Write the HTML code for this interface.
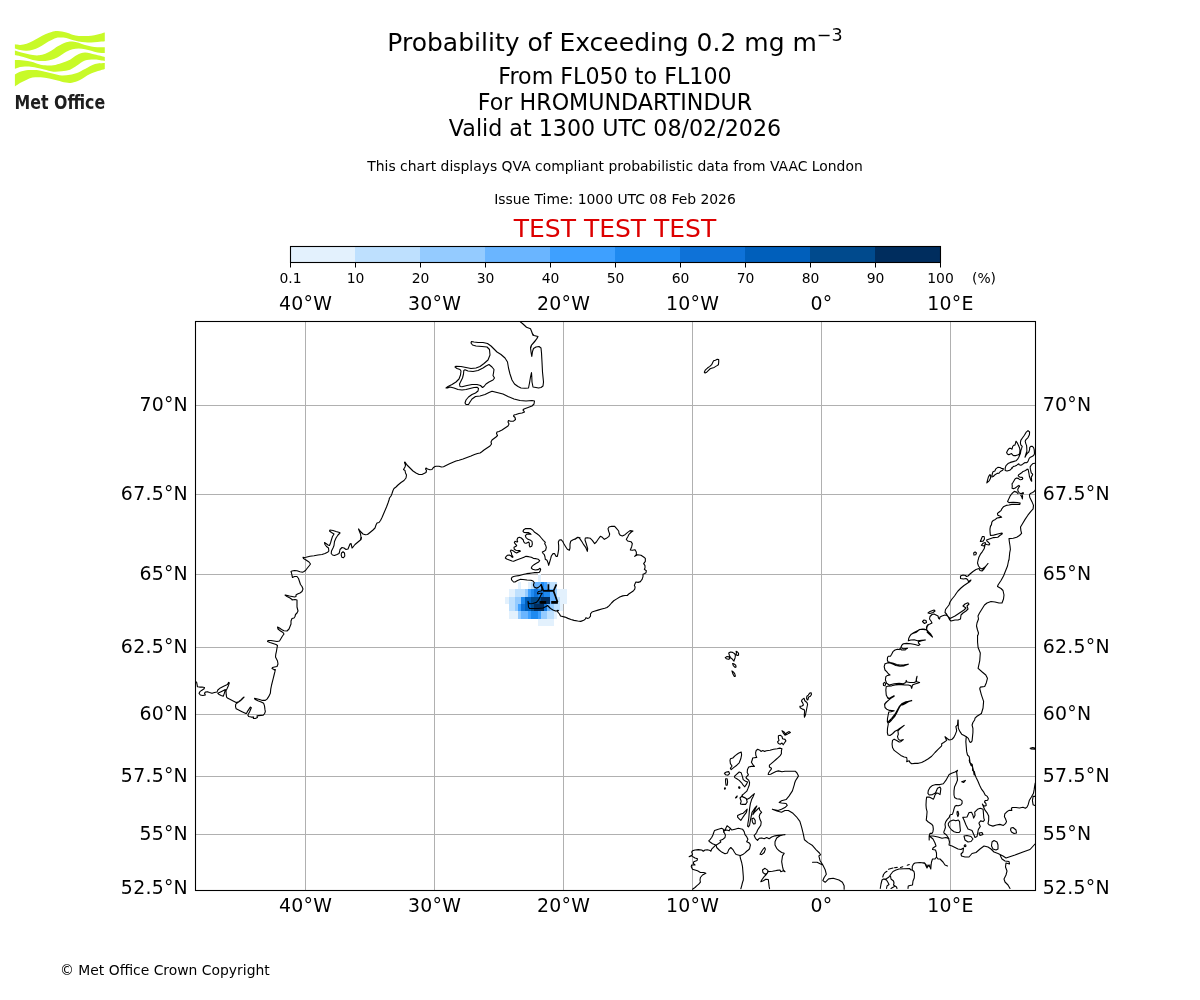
<!DOCTYPE html>
<html><head><meta charset="utf-8"><title>Probability of Exceeding 0.2 mg m-3</title>
<style>html,body{margin:0;padding:0;background:#fff;}svg{display:block;will-change:transform}</style></head>
<body><svg width="1200" height="1000" viewBox="0 0 1200 1000">
<rect width="1200" height="1000" fill="#fff"/>
<text x="615" y="51" font-size="25" text-anchor="middle" font-family="DejaVu Sans, Liberation Sans, sans-serif">Probability of Exceeding 0.2 mg m<tspan font-size="17.5" dy="-10">−3</tspan></text>
<text x="615" y="83.5" font-size="22.2" text-anchor="middle" font-family="DejaVu Sans, Liberation Sans, sans-serif">From FL050 to FL100</text>
<text x="615" y="109.6" font-size="22.2" text-anchor="middle" font-family="DejaVu Sans, Liberation Sans, sans-serif">For HROMUNDARTINDUR</text>
<text x="615" y="135.7" font-size="22.2" text-anchor="middle" font-family="DejaVu Sans, Liberation Sans, sans-serif">Valid at 1300 UTC 08/02/2026</text>
<text x="615" y="171.3" font-size="13.9" text-anchor="middle" font-family="DejaVu Sans, Liberation Sans, sans-serif">This chart displays QVA compliant probabilistic data from VAAC London</text>
<text x="615" y="204.2" font-size="13.9" text-anchor="middle" font-family="DejaVu Sans, Liberation Sans, sans-serif">Issue Time: 1000 UTC 08 Feb 2026</text>
<text x="615" y="236.7" font-size="25" text-anchor="middle" fill="#dd0000" font-family="DejaVu Sans, Liberation Sans, sans-serif">TEST TEST TEST</text>
<rect x="290" y="246" width="65" height="17" fill="#e3f1fd"/>
<rect x="355" y="246" width="65" height="17" fill="#bee0fe"/>
<rect x="420" y="246" width="65" height="17" fill="#94cbff"/>
<rect x="485" y="246" width="65" height="17" fill="#6ab5ff"/>
<rect x="550" y="246" width="65" height="17" fill="#3ea0ff"/>
<rect x="615" y="246" width="65" height="17" fill="#1f8af0"/>
<rect x="680" y="246" width="65" height="17" fill="#0e72d8"/>
<rect x="745" y="246" width="65" height="17" fill="#005fbb"/>
<rect x="810" y="246" width="65" height="17" fill="#004a8d"/>
<rect x="875" y="246" width="65" height="17" fill="#002d5e"/>
<rect x="290.5" y="246.5" width="650" height="16" fill="none" stroke="#000" stroke-width="1.1"/>
<line x1="290.5" y1="262.5" x2="290.5" y2="267.5" stroke="#000" stroke-width="1"/>
<text x="290.5" y="283" font-size="13.9" text-anchor="middle" font-family="DejaVu Sans, Liberation Sans, sans-serif">0.1</text>
<line x1="355.5" y1="262.5" x2="355.5" y2="267.5" stroke="#000" stroke-width="1"/>
<text x="355.5" y="283" font-size="13.9" text-anchor="middle" font-family="DejaVu Sans, Liberation Sans, sans-serif">10</text>
<line x1="420.5" y1="262.5" x2="420.5" y2="267.5" stroke="#000" stroke-width="1"/>
<text x="420.5" y="283" font-size="13.9" text-anchor="middle" font-family="DejaVu Sans, Liberation Sans, sans-serif">20</text>
<line x1="485.5" y1="262.5" x2="485.5" y2="267.5" stroke="#000" stroke-width="1"/>
<text x="485.5" y="283" font-size="13.9" text-anchor="middle" font-family="DejaVu Sans, Liberation Sans, sans-serif">30</text>
<line x1="550.5" y1="262.5" x2="550.5" y2="267.5" stroke="#000" stroke-width="1"/>
<text x="550.5" y="283" font-size="13.9" text-anchor="middle" font-family="DejaVu Sans, Liberation Sans, sans-serif">40</text>
<line x1="615.5" y1="262.5" x2="615.5" y2="267.5" stroke="#000" stroke-width="1"/>
<text x="615.5" y="283" font-size="13.9" text-anchor="middle" font-family="DejaVu Sans, Liberation Sans, sans-serif">50</text>
<line x1="680.5" y1="262.5" x2="680.5" y2="267.5" stroke="#000" stroke-width="1"/>
<text x="680.5" y="283" font-size="13.9" text-anchor="middle" font-family="DejaVu Sans, Liberation Sans, sans-serif">60</text>
<line x1="745.5" y1="262.5" x2="745.5" y2="267.5" stroke="#000" stroke-width="1"/>
<text x="745.5" y="283" font-size="13.9" text-anchor="middle" font-family="DejaVu Sans, Liberation Sans, sans-serif">70</text>
<line x1="810.5" y1="262.5" x2="810.5" y2="267.5" stroke="#000" stroke-width="1"/>
<text x="810.5" y="283" font-size="13.9" text-anchor="middle" font-family="DejaVu Sans, Liberation Sans, sans-serif">80</text>
<line x1="875.5" y1="262.5" x2="875.5" y2="267.5" stroke="#000" stroke-width="1"/>
<text x="875.5" y="283" font-size="13.9" text-anchor="middle" font-family="DejaVu Sans, Liberation Sans, sans-serif">90</text>
<line x1="940.5" y1="262.5" x2="940.5" y2="267.5" stroke="#000" stroke-width="1"/>
<text x="940.5" y="283" font-size="13.9" text-anchor="middle" font-family="DejaVu Sans, Liberation Sans, sans-serif">100</text>
<text x="984" y="283" font-size="13.9" text-anchor="middle" font-family="DejaVu Sans, Liberation Sans, sans-serif">(%)</text>
<defs><clipPath id="mc"><rect x="196" y="322" width="839" height="568"/></clipPath></defs>
<g clip-path="url(#mc)">
<line x1="305.50" y1="321.5" x2="305.50" y2="890.5" stroke="#b0b0b0" stroke-width="1"/>
<line x1="434.50" y1="321.5" x2="434.50" y2="890.5" stroke="#b0b0b0" stroke-width="1"/>
<line x1="563.50" y1="321.5" x2="563.50" y2="890.5" stroke="#b0b0b0" stroke-width="1"/>
<line x1="692.50" y1="321.5" x2="692.50" y2="890.5" stroke="#b0b0b0" stroke-width="1"/>
<line x1="821.50" y1="321.5" x2="821.50" y2="890.5" stroke="#b0b0b0" stroke-width="1"/>
<line x1="950.50" y1="321.5" x2="950.50" y2="890.5" stroke="#b0b0b0" stroke-width="1"/>
<line x1="195.5" y1="405.50" x2="1035.5" y2="405.50" stroke="#b0b0b0" stroke-width="1"/>
<line x1="195.5" y1="494.50" x2="1035.5" y2="494.50" stroke="#b0b0b0" stroke-width="1"/>
<line x1="195.5" y1="574.50" x2="1035.5" y2="574.50" stroke="#b0b0b0" stroke-width="1"/>
<line x1="195.5" y1="647.50" x2="1035.5" y2="647.50" stroke="#b0b0b0" stroke-width="1"/>
<line x1="195.5" y1="714.50" x2="1035.5" y2="714.50" stroke="#b0b0b0" stroke-width="1"/>
<line x1="195.5" y1="776.50" x2="1035.5" y2="776.50" stroke="#b0b0b0" stroke-width="1"/>
<line x1="195.5" y1="834.50" x2="1035.5" y2="834.50" stroke="#b0b0b0" stroke-width="1"/>
<g shape-rendering="crispEdges"><rect x="538.00" y="573.99" width="3.00" height="7.59" fill="#e3f1fd"/><rect x="518.00" y="581.58" width="3.00" height="7.52" fill="#e3f1fd"/><rect x="528.00" y="581.58" width="3.00" height="7.52" fill="#e3f1fd"/><rect x="531.00" y="581.58" width="3.00" height="7.52" fill="#bee0fe"/><rect x="534.00" y="581.58" width="4.00" height="7.52" fill="#6ab5ff"/><rect x="538.00" y="581.58" width="3.00" height="7.52" fill="#6ab5ff"/><rect x="541.00" y="581.58" width="3.00" height="7.52" fill="#1f8af0"/><rect x="544.00" y="581.58" width="3.00" height="7.52" fill="#3ea0ff"/><rect x="547.00" y="581.58" width="3.00" height="7.52" fill="#94cbff"/><rect x="550.00" y="581.58" width="4.00" height="7.52" fill="#bee0fe"/><rect x="554.00" y="581.58" width="3.00" height="7.52" fill="#bee0fe"/><rect x="509.00" y="589.10" width="3.00" height="7.45" fill="#e3f1fd"/><rect x="512.00" y="589.10" width="3.00" height="7.45" fill="#e3f1fd"/><rect x="515.00" y="589.10" width="3.00" height="7.45" fill="#bee0fe"/><rect x="518.00" y="589.10" width="3.00" height="7.45" fill="#bee0fe"/><rect x="521.00" y="589.10" width="4.00" height="7.45" fill="#bee0fe"/><rect x="525.00" y="589.10" width="3.00" height="7.45" fill="#94cbff"/><rect x="528.00" y="589.10" width="3.00" height="7.45" fill="#3ea0ff"/><rect x="531.00" y="589.10" width="3.00" height="7.45" fill="#1f8af0"/><rect x="534.00" y="589.10" width="4.00" height="7.45" fill="#0e72d8"/><rect x="538.00" y="589.10" width="3.00" height="7.45" fill="#1f8af0"/><rect x="541.00" y="589.10" width="3.00" height="7.45" fill="#0e72d8"/><rect x="544.00" y="589.10" width="3.00" height="7.45" fill="#1f8af0"/><rect x="547.00" y="589.10" width="3.00" height="7.45" fill="#1f8af0"/><rect x="550.00" y="589.10" width="4.00" height="7.45" fill="#6ab5ff"/><rect x="554.00" y="589.10" width="3.00" height="7.45" fill="#94cbff"/><rect x="557.00" y="589.10" width="3.00" height="7.45" fill="#e3f1fd"/><rect x="560.00" y="589.10" width="3.00" height="7.45" fill="#e3f1fd"/><rect x="563.00" y="589.10" width="4.00" height="7.45" fill="#e3f1fd"/><rect x="505.00" y="596.55" width="4.00" height="7.38" fill="#e3f1fd"/><rect x="509.00" y="596.55" width="3.00" height="7.38" fill="#bee0fe"/><rect x="512.00" y="596.55" width="3.00" height="7.38" fill="#bee0fe"/><rect x="515.00" y="596.55" width="3.00" height="7.38" fill="#94cbff"/><rect x="518.00" y="596.55" width="3.00" height="7.38" fill="#94cbff"/><rect x="521.00" y="596.55" width="4.00" height="7.38" fill="#1f8af0"/><rect x="525.00" y="596.55" width="3.00" height="7.38" fill="#005fbb"/><rect x="528.00" y="596.55" width="3.00" height="7.38" fill="#005fbb"/><rect x="531.00" y="596.55" width="3.00" height="7.38" fill="#004a8d"/><rect x="534.00" y="596.55" width="4.00" height="7.38" fill="#004a8d"/><rect x="538.00" y="596.55" width="3.00" height="7.38" fill="#004a8d"/><rect x="541.00" y="596.55" width="3.00" height="7.38" fill="#002d5e"/><rect x="544.00" y="596.55" width="3.00" height="7.38" fill="#002d5e"/><rect x="547.00" y="596.55" width="3.00" height="7.38" fill="#002d5e"/><rect x="550.00" y="596.55" width="4.00" height="7.38" fill="#6ab5ff"/><rect x="554.00" y="596.55" width="3.00" height="7.38" fill="#6ab5ff"/><rect x="557.00" y="596.55" width="3.00" height="7.38" fill="#bee0fe"/><rect x="560.00" y="596.55" width="3.00" height="7.38" fill="#e3f1fd"/><rect x="563.00" y="596.55" width="4.00" height="7.38" fill="#e3f1fd"/><rect x="509.00" y="603.93" width="3.00" height="7.32" fill="#bee0fe"/><rect x="512.00" y="603.93" width="3.00" height="7.32" fill="#bee0fe"/><rect x="515.00" y="603.93" width="3.00" height="7.32" fill="#94cbff"/><rect x="518.00" y="603.93" width="3.00" height="7.32" fill="#3ea0ff"/><rect x="521.00" y="603.93" width="4.00" height="7.32" fill="#0e72d8"/><rect x="525.00" y="603.93" width="3.00" height="7.32" fill="#005fbb"/><rect x="528.00" y="603.93" width="3.00" height="7.32" fill="#005fbb"/><rect x="531.00" y="603.93" width="3.00" height="7.32" fill="#004a8d"/><rect x="534.00" y="603.93" width="4.00" height="7.32" fill="#002d5e"/><rect x="538.00" y="603.93" width="3.00" height="7.32" fill="#002d5e"/><rect x="541.00" y="603.93" width="3.00" height="7.32" fill="#002d5e"/><rect x="544.00" y="603.93" width="3.00" height="7.32" fill="#0e72d8"/><rect x="547.00" y="603.93" width="3.00" height="7.32" fill="#6ab5ff"/><rect x="550.00" y="603.93" width="4.00" height="7.32" fill="#94cbff"/><rect x="554.00" y="603.93" width="3.00" height="7.32" fill="#bee0fe"/><rect x="557.00" y="603.93" width="3.00" height="7.32" fill="#bee0fe"/><rect x="560.00" y="603.93" width="3.00" height="7.32" fill="#e3f1fd"/><rect x="509.00" y="611.25" width="3.00" height="7.25" fill="#e3f1fd"/><rect x="512.00" y="611.25" width="3.00" height="7.25" fill="#e3f1fd"/><rect x="515.00" y="611.25" width="3.00" height="7.25" fill="#e3f1fd"/><rect x="518.00" y="611.25" width="3.00" height="7.25" fill="#94cbff"/><rect x="521.00" y="611.25" width="4.00" height="7.25" fill="#6ab5ff"/><rect x="525.00" y="611.25" width="3.00" height="7.25" fill="#6ab5ff"/><rect x="528.00" y="611.25" width="3.00" height="7.25" fill="#3ea0ff"/><rect x="531.00" y="611.25" width="3.00" height="7.25" fill="#1f8af0"/><rect x="534.00" y="611.25" width="4.00" height="7.25" fill="#1f8af0"/><rect x="538.00" y="611.25" width="3.00" height="7.25" fill="#3ea0ff"/><rect x="541.00" y="611.25" width="3.00" height="7.25" fill="#94cbff"/><rect x="544.00" y="611.25" width="3.00" height="7.25" fill="#94cbff"/><rect x="547.00" y="611.25" width="3.00" height="7.25" fill="#bee0fe"/><rect x="550.00" y="611.25" width="4.00" height="7.25" fill="#bee0fe"/><rect x="554.00" y="611.25" width="3.00" height="7.25" fill="#e3f1fd"/><rect x="538.00" y="618.50" width="3.00" height="7.19" fill="#e3f1fd"/><rect x="541.00" y="618.50" width="3.00" height="7.19" fill="#e3f1fd"/><rect x="544.00" y="618.50" width="3.00" height="7.19" fill="#e3f1fd"/><rect x="547.00" y="618.50" width="3.00" height="7.19" fill="#e3f1fd"/><rect x="550.00" y="618.50" width="4.00" height="7.19" fill="#e3f1fd"/></g>
<path d="M520.00,321.50 L523.00,324.00 L526.50,327.25 L530.50,328.75 L532.00,332.50 L533.00,335.25 L538.00,336.50 L537.00,338.50 L534.50,342.00 L531.50,345.25 L531.00,347.50 M532.00,333.00 L534.00,335.50 L538.00,336.50 L536.50,339.00 L534.00,342.00 L531.50,345.00 L530.50,347.50 L531.00,352.00 L531.80,356.50 L532.50,351.50 L533.50,348.50 L536.00,347.00 L539.00,346.50 L541.00,348.00 L541.50,353.00 L542.00,362.00 L542.50,372.00 L543.50,382.00 L543.00,386.00 L541.00,387.50 L538.50,388.00 L536.00,387.50 L533.00,387.00 L532.00,382.00 L531.80,377.00 L531.50,372.50 L530.50,377.00 L529.50,383.00 L528.50,388.00 L525.00,388.20 L521.00,388.00 L518.00,386.50 L514.50,384.00 L512.00,380.00 L510.00,374.00 L508.50,368.00 L507.50,362.00 L505.00,358.00 L501.00,354.50 L497.00,352.00 L494.00,349.00 L491.00,346.00 L487.50,343.50 L483.00,342.50 L478.00,342.50 L474.00,342.00 L471.50,341.50 L471.00,343.00 L472.50,345.00 L476.00,346.00 L482.00,346.50 L487.00,347.00 L489.50,349.50 L490.00,355.00 L488.00,360.00 L484.00,363.50 L480.00,366.50 L476.00,368.00 L471.00,368.50 L466.00,367.50 L461.00,366.50 L456.00,366.20 L455.00,367.00 L457.00,368.50 L460.00,369.50 L461.00,371.00 L460.50,375.00 L459.00,379.00 L456.00,382.00 L452.00,384.50 L448.00,386.50 L446.00,388.00 L447.50,388.00 L450.00,387.00 L454.00,388.00 L458.00,389.50 L462.00,390.00 L466.00,389.50 L470.00,388.50 L474.00,387.50 L477.00,387.20 L478.50,388.50 L478.00,391.00 L475.50,393.00 L472.00,394.50 L468.50,397.00 L466.00,400.00 L465.00,403.00 L466.00,404.50 L468.50,404.50 L470.00,402.00 L472.00,399.00 L475.50,396.50 L480.00,396.00 L485.00,394.50 L489.00,392.50 L492.00,391.20 L497.00,392.50 L503.00,394.00 L508.00,396.50 L514.00,399.00 L520.00,400.50 L526.00,401.00 L532.00,400.50 L534.50,401.00 L534.00,404.00 L532.00,406.00 L528.00,407.50 L524.00,409.00 L523.00,410.00 M489.00,364.50 L492.00,367.00 L494.00,369.50 L493.50,373.00 L493.00,375.50 L494.50,378.00 L493.00,380.00 L489.00,382.00 L486.00,384.00 L484.00,386.50 L482.50,387.50 L480.50,385.50 L477.00,384.50 L472.00,384.50 L467.00,385.50 L462.00,386.80 L460.00,386.50 L459.50,384.00 L461.00,381.00 L462.50,378.00 L463.50,374.00 L463.80,370.50 L465.00,369.80 L468.00,371.00 L473.00,371.50 L478.00,370.50 L483.00,368.00 L486.00,366.00 L489.00,364.50Z M523.00,410.00 L523.50,410.50 L524.50,412.00 L522.00,413.00 L519.00,413.50 L516.00,414.50 L514.00,415.00 L513.50,416.00 L515.00,417.50 L515.50,419.50 L513.50,421.20 L510.50,421.20 L508.50,420.50 L508.00,422.00 L509.00,424.00 L508.00,426.00 L505.00,428.00 L502.00,430.00 L499.00,431.50 L497.00,432.00 L496.50,433.50 L497.50,435.50 L496.00,437.00 L494.00,438.50 L492.00,440.00 L491.00,442.00 L491.50,444.00 L490.00,446.00 L487.00,448.00 L484.00,450.00 L481.50,452.00 L480.00,453.00 L477.50,453.50 L474.50,454.50 L471.00,456.00 L467.00,457.50 L463.00,459.00 L459.00,460.20 L456.00,461.00 L453.00,462.20 L449.00,464.00 L446.00,465.50 L443.50,466.80 L441.50,467.00 L439.00,466.20 L436.00,466.20 L434.50,466.80 L433.00,468.00 L432.00,469.50 L430.00,469.80 L427.50,469.00 L426.00,468.00 L425.50,469.00 L426.50,470.50 L426.00,472.50 L424.00,473.50 L422.00,474.50 M422.00,474.50 L419.00,474.50 L416.00,473.00 L413.00,471.00 L410.00,468.00 L407.00,465.00 L405.00,462.00 L404.50,462.50 L405.50,465.00 L405.00,467.00 L403.50,469.50 L405.00,470.50 L405.50,473.00 L406.50,475.00 L406.00,478.00 L404.00,480.50 L401.00,482.50 L398.00,485.00 L396.00,487.00 L394.00,488.50 L393.00,490.50 L392.00,493.50 L391.00,496.00 L389.50,498.00 L389.00,500.00 L388.00,503.00 L386.50,507.00 L385.00,510.50 L383.50,514.00 L382.00,517.50 L380.50,520.50 L379.00,522.50 L377.00,523.00 L376.00,525.00 L375.00,528.00 L373.00,530.00 L370.00,532.50 L367.50,534.50 L365.50,534.80 L363.00,534.00 L361.00,532.00 L359.00,529.50 L358.50,529.00 L359.50,531.50 L360.50,534.00 L361.00,537.00 L360.50,539.50 M361.50,537.50 L361.00,539.50 L358.00,542.00 L355.00,544.50 L353.00,547.00 L352.00,548.00 L351.50,545.50 L351.00,543.50 L350.00,544.00 L349.00,546.50 L348.00,549.00 L346.00,549.50 L344.00,548.00 L342.00,547.50 L340.00,549.50 L339.50,552.00 L339.00,553.50 L337.00,554.50 L334.50,555.50 L332.50,555.00 L331.20,553.50 L331.50,551.00 L333.00,548.00 L334.00,545.50 L334.50,541.50 L336.00,538.00 L338.00,535.00 L340.00,533.00 L339.50,532.50 L336.00,531.50 L333.00,530.50 L330.00,530.00 L329.50,531.00 L331.50,532.50 L334.00,534.00 L332.50,536.50 L331.50,539.50 L330.50,543.00 L329.50,545.50 L328.00,545.00 L326.00,543.50 L324.50,542.50 L325.00,544.50 L326.50,546.50 L328.50,548.00 L328.80,551.00 L328.00,552.00 L325.00,553.50 L322.00,554.50 L318.00,555.00 L314.00,555.70 L310.00,556.30 L306.00,557.20 L304.00,557.50 L303.00,557.20 L303.50,558.50 L306.00,560.00 L309.00,562.00 L310.50,564.00 L309.00,566.00 L307.00,568.50 L305.50,570.50 L304.00,571.50 L302.50,572.20 L300.00,571.80 L297.00,570.80 L294.50,570.50 L292.00,571.00 L291.00,571.50 L291.50,573.00 L292.00,575.50 L292.50,577.50 L294.50,576.50 L297.00,576.50 L298.50,578.50 L299.50,581.50 L300.50,584.50 L302.00,586.50 L303.00,589.00 L302.00,591.50 L300.00,593.00 L297.50,594.00 L296.00,595.00 L296.00,596.50 L294.50,597.00 L292.00,596.50 L289.50,596.00 L286.50,595.20 L285.00,595.00 L287.00,596.50 L290.00,598.00 L292.00,599.50 L293.00,600.00 M341.50,553.00 L343.00,551.80 L344.50,553.00 L344.80,556.00 L343.50,557.80 L341.80,557.20 L341.20,555.00 L341.50,553.00Z M292.00,600.00 L295.00,599.50 L297.00,600.00 L297.00,604.00 L297.00,607.00 L298.00,611.00 L297.00,613.00 L295.50,614.50 L295.00,616.50 L294.00,618.00 L292.00,618.50 L291.00,621.00 L291.00,624.00 L290.00,626.50 L289.00,629.00 L287.00,631.00 L284.00,630.80 L281.50,629.50 L279.50,628.00 L277.50,627.00 L278.00,629.00 L280.50,631.00 L283.00,632.50 L284.00,634.00 L282.50,636.00 L281.00,638.50 L279.50,641.00 L277.00,641.50 L274.00,641.00 L271.00,640.50 L268.00,640.50 L267.50,641.50 L270.00,642.50 L273.00,643.50 L276.00,644.50 L277.50,645.50 L277.00,648.00 L276.50,651.00 L275.80,654.00 L275.50,657.00 L276.50,659.00 L277.50,661.00 L278.00,664.00 L277.00,666.50 L274.50,667.00 L272.50,667.50 L272.00,668.50 L274.00,669.50 L274.50,670.00 M274.50,670.00 L275.33,669.58 L274.92,671.67 L274.08,675.00 L273.25,678.33 L272.42,681.67 L271.58,685.00 L270.75,689.17 L270.33,693.33 L268.67,696.67 L267.00,699.17 L265.33,700.42 L262.42,700.42 L259.50,699.58 L256.58,698.75 L254.50,698.33 L255.33,699.58 L257.83,700.83 L261.17,702.08 L263.67,703.33 L264.50,705.83 L264.92,709.17 L265.33,711.67 L264.50,713.75 L263.25,715.17 L258.67,715.67 L257.00,715.83 L257.42,717.50 L255.33,718.50 L253.25,718.33 L253.67,717.08 L251.17,717.08 L248.67,716.50 L247.83,715.00 L249.50,712.08 L251.33,707.67 L250.33,707.08 L247.83,710.83 L246.58,713.33 L245.33,713.33 L242.00,711.67 L238.67,710.00 L236.17,708.75 L235.50,706.67 L235.75,704.17 L237.42,702.92 L240.33,700.83 L242.42,698.75 L244.08,697.08 L242.83,697.92 L241.17,699.58 L238.67,701.67 L236.17,702.50 L233.67,701.25 L230.33,699.58 L227.83,698.33 L226.58,697.08 L226.17,694.17 L226.00,690.83 L227.00,688.75 L228.50,685.42 L229.33,682.92 L228.67,682.33 L227.42,684.58 L223.67,686.25 L220.33,687.92 L217.83,690.00 L217.00,692.08 L214.50,692.50 L212.00,693.33 L209.50,692.50 L207.42,691.67 L205.33,692.08 L204.50,693.33 L205.33,695.00 L202.83,695.42 L200.33,695.00 L199.08,693.33 L199.92,691.67 L201.58,690.42 L204.08,688.75 L204.50,687.50 L202.00,687.08 L199.50,687.08 L197.42,686.67 L197.00,684.17 L196.58,682.08 L195.33,681.83 M217.83,693.33 L221.58,691.50 L225.33,689.58 L224.33,693.33 L223.25,696.25 L221.17,695.42 L218.67,694.17 L217.83,693.33Z M704.30,372.20 L705.20,370.16 L707.45,368.06 L709.85,366.35 L711.65,364.64 L712.70,362.60 L713.60,360.80 L715.40,360.20 L717.20,359.30 L718.70,359.60 L718.70,362.30 L718.40,364.70 L716.60,365.90 L714.20,367.40 L711.50,368.30 L710.15,368.75 L708.50,370.34 L706.70,372.20 L705.05,373.04 L704.30,372.20Z M580.00,537.67 L577.67,537.33 L575.33,538.67 L572.67,540.00 L570.67,541.33 L570.00,544.00 L570.00,548.00 L569.33,550.33 L567.33,549.33 L565.67,546.67 L564.00,544.00 L562.67,541.33 L561.00,539.67 L559.33,540.00 L558.33,542.00 L558.67,545.33 L558.67,549.33 L558.00,553.33 L557.33,556.33 L556.00,556.33 L554.67,553.67 L553.00,553.67 L551.33,556.00 L550.67,558.67 L549.67,562.00 L548.67,565.33 L548.00,562.67 L547.00,560.33 L545.33,559.33 L545.00,557.00 L544.33,554.67 L543.00,553.33 L542.33,552.00 L544.00,551.33 L545.67,550.00 L546.33,547.33 L545.67,545.33 L544.67,543.67 L545.33,542.33 L543.33,540.33 L541.33,538.00 L539.33,535.67 L537.33,534.00 L534.67,532.33 L532.67,530.00 L530.67,528.67 L528.00,528.53 L525.33,528.67 L523.67,529.67 L523.00,531.33 L524.00,532.33 L526.67,532.67 L528.67,532.67 L530.33,533.67 L531.00,534.33 L528.67,534.00 L526.67,534.33 L525.33,535.67 L526.00,537.67 L528.00,539.33 L530.67,540.33 L532.00,541.33 L532.33,544.00 L531.67,546.33 L530.00,547.00 L529.33,545.67 L529.33,543.33 L528.67,542.00 L527.33,542.67 L526.00,543.33 L524.67,543.00 L523.67,541.67 L523.33,540.00 L521.33,538.00 L519.33,537.20 L517.67,538.00 L517.00,540.00 L517.67,541.67 L517.00,542.00 L515.00,541.33 L514.33,542.67 L515.33,544.00 L516.67,545.33 L516.00,546.33 L514.00,547.33 L514.33,549.33 L516.00,550.33 L518.00,550.67 L520.00,550.67 L520.33,551.33 L518.00,552.33 L516.67,553.00 L514.67,552.00 L513.00,550.67 L511.00,550.00 L510.33,551.00 L511.33,552.67 L511.67,554.67 L513.00,557.00 L512.33,557.33 L510.67,555.67 L509.33,555.00 L507.33,555.33 L506.00,556.67 L505.33,558.00 L506.67,559.00 L509.33,560.00 L512.00,561.00 L513.67,561.33 L516.00,560.33 L518.67,559.33 L521.33,558.33 L524.00,557.20 L526.00,556.33 L528.67,556.67 L531.33,557.33 L533.33,558.33 L536.00,558.67 L538.33,559.33 L539.67,560.67 L538.67,562.00 L536.33,563.33 L534.00,564.67 L532.00,566.33 L531.33,568.00 L532.67,569.33 L535.33,570.00 L538.00,569.67 L540.00,568.33 L540.67,569.33 L540.00,571.33 L539.33,572.33 L537.33,572.67 L534.67,572.67 L532.00,573.00 L529.33,573.33 L526.67,573.67 L524.00,574.33 L521.33,575.00 L518.67,575.67 L516.00,576.00 L513.67,576.53 L512.00,577.33 L511.33,578.67 L511.67,580.00 M575.00,539.33 L578.00,537.20 L579.67,538.33 L581.67,541.33 L583.67,544.67 L585.67,547.33 L587.33,551.33 L587.67,548.67 L586.33,544.00 L585.00,540.00 L585.33,538.00 L587.33,537.67 L590.33,538.33 L592.33,540.33 L594.67,543.67 L596.33,542.00 L598.33,539.00 L600.33,536.33 L602.33,537.33 L604.33,539.33 L606.33,538.33 L609.00,536.33 L609.67,534.00 L608.67,531.33 L608.00,528.67 L609.00,527.00 L611.67,526.33 L614.67,526.33 L616.67,528.67 L618.67,531.00 L619.00,533.33 L620.33,535.33 L622.33,536.00 L625.00,534.67 L627.67,532.33 L630.00,530.67 L633.00,531.00 L631.33,532.00 L629.00,534.33 L627.67,537.00 L626.33,539.33 L627.67,541.00 L631.00,541.67 L632.33,543.67 L631.67,546.67 L630.33,550.00 L632.33,550.33 L635.00,549.67 L636.33,552.00 L636.33,554.67 L634.67,556.33 L637.67,554.67 L641.00,555.33 L643.67,557.00 L645.33,558.33 L645.33,561.33 L643.67,563.67 L645.00,565.67 L645.00,568.00 L644.33,569.33 L646.33,570.67 L646.00,572.67 L644.33,573.67 L643.00,574.33 L643.00,576.67 L642.00,579.67 M642.25,579.00 L640.38,581.63 L638.13,582.38 L635.88,582.00 L635.13,583.50 L634.38,585.38 L635.13,586.88 L634.75,589.13 L633.25,591.00 L631.00,592.50 L628.75,594.00 L627.25,595.50 L625.00,595.50 L622.75,595.88 L619.75,597.00 L616.75,598.88 L613.75,600.75 L611.50,603.00 L609.25,605.63 L607.00,607.50 L604.75,608.25 L601.75,609.00 L598.00,610.13 L594.25,611.25 L592.00,612.00 L590.50,613.88 L590.50,616.13 L589.00,618.00 L587.13,618.38 L586.00,617.63 L585.25,619.13 L583.75,620.25 L580.75,621.38 L577.75,621.00 L574.00,620.40 L571.00,619.50 L568.00,618.38 L565.00,617.10 M511.75,580.00 L513.50,582.00 L515.00,582.00 L517.50,580.50 L520.00,579.40 L523.00,579.50 L527.00,580.00 L531.00,580.25 L533.00,581.00 L534.20,582.50 L533.40,585.00 L534.20,587.00 L536.20,588.10 L538.10,587.60 L539.80,586.20 L541.20,584.90 L542.30,589.00 L541.00,591.00 L538.50,591.50 L537.50,593.00 L538.00,594.00 L540.00,593.25 L542.30,593.20 L541.20,594.60 L539.80,597.40 L538.40,600.20 L536.40,602.40 L532.80,603.50 L530.00,603.80 L528.50,603.00 L528.00,601.25 L528.25,604.00 L528.50,607.00 L529.50,608.50 L533.00,608.50 L538.00,608.50 L543.00,608.00 L546.00,606.50 L547.50,605.50 L548.50,606.50 L550.50,608.50 L553.00,610.00 L555.50,611.00 L557.50,610.75 L557.75,612.00 L559.50,614.00 L560.50,616.00 L565.00,617.10 M1005.20,468.00 L1006.00,465.60 L1008.00,463.60 L1010.40,462.40 L1013.20,461.60 L1016.00,460.80 L1017.60,459.20 L1018.80,457.20 L1019.60,455.20 L1020.40,453.60 L1020.80,450.80 L1021.60,448.40 L1022.20,446.40 L1020.80,444.80 L1020.40,442.80 L1020.80,440.40 L1022.40,438.00 L1024.40,435.20 L1026.00,432.40 L1028.00,430.60 L1029.60,432.00 L1029.40,434.80 L1028.00,437.60 L1026.00,439.60 L1025.20,441.20 L1025.80,443.60 L1026.60,445.60 L1026.80,448.80 L1026.88,451.20 L1026.20,453.20 L1025.00,457.20 L1026.00,455.20 L1027.60,453.00 L1028.80,452.00 L1029.60,449.60 L1029.68,447.60 L1030.80,446.40 L1032.40,446.40 L1033.60,447.60 L1034.20,449.60 L1034.40,452.00 L1034.40,454.00 L1033.60,455.60 L1032.00,456.40 L1030.40,457.20 L1029.20,458.40 L1028.40,460.40 L1027.60,462.00 L1026.40,462.80 L1024.80,462.60 L1024.00,463.20 L1022.40,464.40 L1020.80,465.20 L1019.20,464.80 L1018.80,463.80 L1018.00,464.20 L1016.80,465.20 L1015.20,466.00 L1013.60,466.40 L1012.40,467.40 L1011.60,468.00 M1016.00,441.20 L1017.20,442.80 L1018.40,445.20 L1019.60,448.00 L1020.00,450.40 L1019.60,453.60 L1018.40,454.80 L1016.00,455.60 L1013.60,455.60 L1012.40,454.80 L1011.60,453.60 L1010.40,454.00 L1008.80,454.80 L1007.40,454.00 L1006.60,452.40 L1007.60,450.40 L1009.20,448.40 L1010.80,448.40 L1012.00,449.20 L1012.60,446.80 L1013.60,445.20 L1014.80,445.20 L1015.40,443.60 L1016.00,441.20Z M1012.50,467.79 L1011.58,468.71 L1009.75,470.31 L1007.00,471.00 L1005.16,470.54 L1005.21,468.02 M986.83,482.91 L987.52,480.16 L988.44,476.96 L989.58,474.89 L990.73,475.12 L990.50,478.33 L989.35,480.62 L986.83,482.91Z M991.87,476.96 L992.33,473.75 L993.02,471.69 L994.85,471.00 L995.77,468.94 L997.83,467.33 L1000.12,467.56 L1001.27,468.34 L1003.56,468.71 L1002.64,470.31 L1000.35,471.46 L998.98,473.29 L997.14,473.38 L995.08,474.67 L993.25,476.50 L991.87,476.96Z M1035.41,463.21 L1033.12,463.44 L1031.29,465.04 L1030.14,466.87 L1030.37,469.17 L1030.83,471.00 L1031.29,472.83 L1032.66,474.21 L1032.20,475.58 L1031.29,476.96 L1031.52,479.25 L1031.75,481.31 L1030.83,480.16 L1030.14,478.33 L1029.45,476.50 L1029.00,473.75 L1028.54,471.46 L1028.08,469.40 L1027.16,469.17 L1026.25,470.08 L1024.41,471.00 L1023.04,471.46 L1021.66,472.83 L1019.83,473.98 L1018.46,474.89 L1018.23,475.81 L1019.83,477.19 L1022.12,477.42 L1022.81,478.33 L1022.35,479.25 L1020.75,479.71 L1019.37,479.48 L1018.46,478.33 L1016.62,478.10 L1015.25,478.79 L1014.33,480.16 L1012.96,482.46 L1012.04,483.83 L1012.27,486.12 L1012.04,488.19 L1013.41,488.64 L1015.25,487.96 L1017.08,486.58 L1018.91,485.44 L1019.60,486.35 L1018.68,487.50 L1017.77,489.33 L1018.00,491.16 L1019.37,493.00 L1021.21,493.68 L1022.58,492.77 L1023.50,492.77 L1023.27,493.68 L1021.66,493.91 M1035.41,489.79 L1034.50,491.16 L1032.66,492.54 L1030.37,493.46 L1029.45,494.83 L1029.68,496.66 M1020.75,495.29 L1021.66,496.66 L1022.35,498.96 L1022.58,496.66 L1022.35,495.29 M1029.63,496.72 L1029.98,497.70 L1032.08,501.90 L1033.48,505.40 L1033.13,508.89 L1030.68,511.69 L1027.88,515.19 L1025.08,519.39 L1022.63,523.59 L1020.53,527.09 L1020.88,530.59 L1021.58,533.39 L1019.48,535.49 L1016.68,537.24 L1013.18,538.29 L1008.99,538.64 L1009.34,541.78 L1010.03,545.98 L1010.38,549.48 L1009.69,552.98 L1008.99,559.98 M1018.01,493.71 L1016.61,492.10 L1014.30,491.40 L1011.99,493.50 L1010.38,495.60 L1008.99,498.40 L1007.59,501.55 L1008.99,502.60 L1013.18,502.25 L1017.38,502.46 L1020.18,502.95 L1019.83,504.35 L1015.98,504.35 L1011.78,504.35 L1008.99,505.05 L1006.19,505.40 L1003.39,506.79 L1001.99,508.54 L1000.94,510.64 L999.19,512.04 L997.44,513.44 L997.79,515.19 L1000.24,516.24 L1001.64,517.29 L999.19,517.64 L997.09,517.99 L995.34,519.39 L993.24,520.44 L991.84,522.19 L991.49,524.64 L990.44,526.39 L989.95,529.19 L990.09,532.69 L990.44,535.49 L993.59,535.14 L997.79,534.09 L1001.99,533.04 L1002.34,533.74 L999.89,535.49 L997.79,537.24 L993.59,537.59 L989.39,538.99 L986.59,540.03 L986.94,541.08 L988.69,542.48 L989.74,543.88 L989.04,544.93 L986.59,544.58 L985.19,543.88 L984.84,545.98 L984.14,548.78 L982.39,551.58 L980.29,554.38 L978.89,557.18 L978.19,559.98 M980.29,541.43 L982.39,536.54 L984.14,536.54 L984.49,538.99 L983.09,541.08 L980.29,541.43Z M981.34,545.28 L983.09,543.18 L985.19,542.48 L985.54,544.23 L983.79,545.98 L981.34,545.28Z M973.65,552.98 L975.05,551.93 L976.45,552.98 L975.75,554.73 L974.00,555.08 L973.65,552.98Z M1009.00,559.50 L1008.50,561.00 L1007.50,566.00 L1005.50,571.00 L1003.50,576.00 L1001.00,580.50 L998.00,585.00 L997.50,586.50 L1001.00,588.50 L1003.00,590.50 L1004.00,595.00 L1003.50,599.00 L1002.00,603.00 L999.00,603.00 L995.00,602.00 L991.00,601.50 L987.00,603.00 L984.50,605.00 L982.00,609.00 L979.50,613.00 L978.00,616.00 L978.50,619.00 L977.00,623.00 L976.50,626.00 L977.50,630.00 L978.50,633.00 L978.00,635.00 M978.20,559.50 L977.50,563.00 L978.50,566.00 L980.00,568.00 L982.00,569.00 L985.00,567.00 L988.00,563.50 L986.00,566.00 L984.00,569.00 L982.00,571.00 L980.00,570.50 L979.00,568.50 L976.00,569.50 L973.00,571.50 L970.00,574.00 L968.00,576.00 L966.50,576.50 L965.50,575.50 L963.00,575.00 L960.50,576.00 L960.50,578.50 L963.50,579.00 L966.00,578.50 L967.50,579.50 L968.50,581.50 L971.00,580.00 L970.00,581.50 L967.00,583.50 L964.00,585.50 L961.00,588.00 L958.00,591.00 L956.50,593.00 L954.50,596.00 L952.00,599.00 L950.00,602.00 L949.00,605.00 L947.00,607.50 L945.50,609.50 L945.00,612.50 L946.50,614.00 L948.00,616.50 L949.50,619.50 L951.00,621.00 L955.00,620.00 L958.00,620.00 L960.50,619.00 L961.00,615.00 L963.00,613.00 L966.00,611.00 L968.00,609.00 L967.00,606.00 L969.00,604.00 L968.00,602.80 L965.00,604.00 L963.00,606.00 L966.00,608.00 L964.00,610.00 L961.00,612.00 L958.00,614.00 L955.00,616.00 L952.00,617.50 L950.00,618.50 L947.00,615.50 L945.00,615.00 L942.00,616.00 L940.00,617.00 L939.50,619.00 L938.50,618.00 L938.00,616.00 L936.00,615.00 L934.00,614.00 L932.00,614.50 L930.00,616.50 L929.50,619.00 L931.00,621.00 L932.00,623.00 L930.00,624.00 L927.50,625.00 L926.50,627.00 L926.50,630.00 L924.00,629.00 L920.00,629.50 L917.00,631.00 L914.00,632.50 L911.00,634.50 M926.50,630.00 L929.00,632.50 L930.50,634.50 M928.00,613.00 L930.00,611.50 L934.00,610.00 L935.00,611.00 L933.00,612.50 L930.00,613.50 L928.00,613.00Z M922.50,621.50 L924.00,620.00 L926.00,620.50 L926.50,622.50 L924.50,623.50 L922.50,621.50Z M928.33,625.00 L927.08,626.67 L926.67,629.17 L925.00,629.58 L921.67,629.17 L919.17,629.58 L917.50,631.25 L915.83,632.50 L913.33,633.33 L911.25,634.17 L910.00,635.83 L908.75,638.33 L908.33,640.83 L910.83,640.00 L914.17,639.83 L917.50,640.83 L921.67,640.42 L925.42,640.00 L921.67,640.83 L918.75,641.67 L918.33,642.92 L920.00,644.58 L918.33,645.42 L915.00,644.58 L910.83,643.75 L906.67,643.33 L903.33,643.75 L901.67,645.42 L900.83,647.50 L900.00,648.75 L899.17,649.58 L897.50,649.17 L895.00,650.00 L892.92,651.67 L891.67,654.17 L890.42,656.25 L888.33,656.25 L887.50,657.50 L887.33,660.00 L887.92,661.67 L890.42,662.50 L893.33,663.33 L896.67,664.58 L900.00,665.00 L904.17,664.83 L908.33,664.17 L904.17,665.83 L900.00,666.25 L895.83,665.42 L893.33,664.17 L890.00,662.92 L887.50,662.92 L885.00,663.75 L884.17,666.67 L885.00,670.00 L886.67,671.67 L888.33,673.75 L890.00,675.00 L887.50,675.42 L885.83,676.67 L885.42,680.00 L886.67,683.33 L889.17,685.00 L894.17,683.75 L899.17,683.33 L903.33,683.75 L905.83,682.50 L906.25,680.42 L907.08,682.08 L910.00,682.50 L914.17,682.50 L915.83,681.67 L916.67,678.33 L917.08,676.25 L916.25,679.17 L916.67,681.67 L919.58,682.50 L917.50,683.33 L914.17,684.17 L912.50,685.00 L911.67,688.33 L910.83,685.83 L908.33,685.00 L905.00,685.00 L901.67,684.58 L898.33,684.58 L895.00,685.00 L891.67,685.83 L887.50,686.25 L886.25,686.67 L885.83,690.00 L886.25,695.00 L887.92,698.33 L889.58,698.33 L891.67,697.08 L894.17,695.83 L891.67,697.50 L889.17,699.58 L887.08,701.67 L885.42,703.33 L884.58,705.00 M926.67,629.58 L928.33,631.67 L930.83,634.17 L932.50,637.08 L929.17,634.17 L927.08,632.08 M883.33,683.33 L884.58,682.33 L885.67,683.75 L885.00,685.83 L883.50,685.42 L883.33,683.33Z M900.83,705.00 L903.33,703.33 L906.67,701.67 L911.67,700.42 L908.33,701.67 L905.00,703.75 L902.50,705.00 M900.83,647.50 L903.33,648.75 L907.50,648.33 L905.00,650.00 L901.67,650.00 L900.00,648.75 M886.25,695.00 L887.50,697.50 L890.00,698.75 L894.17,696.25 L890.83,698.33 L888.33,700.42 L885.83,702.50 L884.58,704.17 L885.00,707.50 L886.67,709.17 L889.58,710.42 L894.17,710.83 L891.25,711.67 L888.75,712.08 L888.17,715.00 L887.50,718.33 L887.33,721.67 L888.33,723.75 L887.50,728.33 L887.33,732.50 L887.92,735.00 L890.00,735.42 L892.50,733.75 L895.00,731.25 L897.50,730.00 L900.00,728.33 L904.17,725.42 L900.00,728.75 L897.92,730.83 L898.33,734.17 L897.50,736.67 L898.33,739.17 L900.00,740.42 L903.33,739.58 L900.83,741.67 L899.17,742.08 L896.67,740.42 L894.17,739.17 L892.50,740.42 L892.08,744.17 L892.50,747.50 L894.17,750.42 L897.50,752.92 L900.83,755.42 L904.17,757.08 L906.67,757.50 L907.08,760.00 L906.67,761.67 L909.17,760.83 L910.00,762.50 L911.67,763.75 L915.00,763.33 L918.33,763.33 L921.67,762.50 L925.00,760.83 L928.33,758.75 L931.67,756.25 L935.00,752.50 L938.33,749.17 L941.67,745.83 L941.67,743.75 L943.75,742.50 L946.67,740.42 L945.00,736.67 L947.50,738.75 L949.17,740.00 L951.67,739.58 L953.75,737.50 L955.42,734.17 L956.67,730.83 L956.25,728.33 L955.83,726.67 L957.50,725.00 L957.92,720.00 M911.67,700.83 L906.67,702.08 L902.50,703.75 L900.00,706.25 L898.33,709.58 L896.67,712.92 L894.58,716.67 L891.67,720.00 L889.17,722.50 L888.33,721.67 L891.67,718.33 L895.00,714.17 L897.08,710.42 L899.17,706.67 L901.67,703.75 L905.83,701.83 L911.67,700.83Z M958.17,720.00 L958.33,728.33 L960.00,731.67 L961.67,734.17 L964.17,735.42 L966.25,736.67 L965.83,741.67 L966.25,746.67 L966.67,751.67 L967.50,755.00 L969.17,756.67 L970.00,761.67 L970.83,765.00 L972.50,766.67 L973.33,770.00 L974.17,775.00 M966.25,736.67 L968.33,738.33 L969.58,741.67 L970.83,742.50 L972.08,740.83 L972.50,736.67 L972.92,732.50 L972.92,728.33 L972.08,725.00 L972.92,722.50 L974.58,720.00 L975.00,718.33 M977.55,635.40 L977.55,642.00 L978.10,647.50 L980.30,653.00 L979.75,660.70 L978.10,668.40 L982.50,672.26 L985.80,675.01 L987.45,678.31 L986.35,682.71 L984.70,686.56 L980.30,687.11 L979.75,688.76 L981.40,694.81 L983.60,701.41 L983.05,708.01 L981.40,713.51 L977.00,716.26 L975.02,718.13 M957.50,770.42 L955.00,772.08 L951.67,773.33 L949.17,774.58 L947.50,777.50 L945.83,780.42 L943.33,783.75 L940.00,784.58 L935.83,784.58 L932.50,785.42 L930.00,787.50 L928.33,790.42 L927.92,793.33 L929.17,795.00 L932.50,794.58 L935.00,793.33 L936.25,791.25 L937.50,788.33 L940.00,787.08 L940.83,788.75 L940.42,792.08 L940.00,794.58 L938.33,793.33 L936.67,792.92 L935.00,795.00 L934.17,797.50 L933.33,799.17 L931.67,798.33 L929.17,797.08 L926.67,797.08 L926.25,800.00 L926.00,805.00 L926.25,808.33 L927.08,811.67 L926.67,816.67 L926.25,820.00 L928.33,822.08 L931.67,824.17 L932.92,825.83 L933.33,829.17 L932.92,831.67 L932.08,833.33 L930.00,833.33 L929.17,835.83 L929.17,840.00 M957.50,770.42 L956.67,772.08 L957.08,775.83 L957.50,780.00 L956.25,783.33 L954.58,786.67 L954.00,790.83 L954.00,795.00 L954.58,797.50 L956.67,798.75 L960.00,799.17 L962.08,800.83 L962.08,803.33 L960.83,805.00 L958.33,805.83 L956.25,805.42 L955.00,806.25 L954.17,808.33 L953.33,811.67 L952.50,814.17 L951.25,814.58 L950.00,815.00 L949.17,817.50 L947.50,819.17 L945.83,821.67 L945.00,824.17 L945.42,827.50 L944.58,830.00 L943.75,832.08 L944.17,833.33 M948.33,823.33 L950.00,821.25 L953.33,820.00 L955.83,820.83 L958.33,820.00 L959.58,821.67 L960.00,826.67 L960.42,830.83 L959.17,832.50 L956.67,832.50 L954.17,831.67 L951.67,830.00 L949.58,827.50 L948.33,825.00 L948.33,823.33Z M961.67,781.67 L965.42,780.42 L963.75,782.50 L961.67,781.67Z M957.08,811.67 L957.92,811.25 L958.75,814.17 L957.92,816.67 L957.08,814.17 L957.08,811.67Z M975.05,774.70 L976.10,777.49 L977.84,780.99 L979.59,785.19 L981.69,789.39 L983.79,792.19 L985.19,794.99 L987.29,796.39 L988.34,798.49 L987.64,800.24 L985.19,800.59 L984.49,801.99 L985.89,803.39 L986.24,805.49 L984.49,806.19 L982.74,804.79 L982.39,804.09 L983.79,807.59 L985.19,810.38 L987.29,813.18 L988.69,815.98 L988.69,820.18 L987.99,823.68 L989.39,825.08 L992.89,826.13 L996.39,825.08 L999.89,824.38 L1003.39,825.43 L1005.49,823.68 L1006.54,821.58 L1005.49,818.78 L1004.44,816.68 L1004.79,813.88 L1006.89,811.78 L1008.99,810.38 L1011.78,810.38 L1011.43,808.29 L1012.48,807.45 L1015.98,807.45 L1019.48,807.94 L1022.98,807.24 L1025.43,808.29 L1027.18,806.89 L1028.23,804.44 L1029.28,800.59 L1031.38,797.09 L1033.48,793.24 L1034.18,789.39 L1034.60,786.59 L1035.23,783.09 M969.17,760.00 L969.80,762.80 L972.25,764.55 L972.60,767.00 L972.60,770.50 L974.35,771.55 L975.05,774.70 M962.80,817.38 L967.00,817.03 L969.10,812.48 L971.55,812.34 L972.95,815.28 L973.65,818.08 L975.05,815.28 L974.70,812.13 L977.49,809.34 L980.29,808.29 L983.09,809.34 L983.44,813.18 L983.79,818.08 L984.49,820.18 L983.09,821.58 L980.64,820.88 L978.89,822.98 L980.29,826.48 L978.89,828.58 L978.19,829.98 M1035.23,796.39 L1033.13,796.39 L1032.43,800.59 L1033.13,804.79 L1034.88,805.49 M929.20,835.80 L930.00,836.50 L933.00,839.00 L935.00,843.00 L936.00,846.00 L933.00,848.00 L932.50,849.50 L935.50,850.00 L936.50,853.00 L936.50,857.00 L935.00,859.00 L932.50,859.00 L931.50,862.00 L931.00,866.00 L930.80,869.00 L930.00,867.00 L928.00,865.00 L927.00,868.00 L926.00,866.00 L925.00,863.50 L922.00,862.80 L920.00,862.50 M936.50,857.00 L938.00,859.00 L940.00,859.00 L943.00,862.00 L945.00,865.00 L947.50,866.00 M929.20,836.00 L933.00,836.00 L938.00,837.00 L942.00,838.20 L946.00,837.50 L949.00,838.80 M944.20,833.30 L946.50,835.00 L948.50,838.00 L949.50,842.00 L949.00,845.00 L952.00,846.00 L955.00,847.50 L958.00,849.00 L961.00,849.50 L963.50,848.00 L963.00,852.00 L961.00,854.00 L961.50,856.00 L965.00,857.00 L969.00,857.00 L972.00,853.50 L976.00,852.50 L980.00,849.00 L984.00,846.00 L988.00,847.00 L991.00,849.00 L994.00,852.00 L998.00,853.50 L1000.00,854.50 L1003.00,856.00 L1006.00,858.00 L1015.00,855.00 L1023.00,852.00 L1030.00,849.50 L1035.00,844.00 M1000.00,854.50 L1001.00,857.00 L1002.00,859.00 L1005.00,861.00 L1009.00,861.50 L1009.50,864.00 L1006.00,863.00 L1005.50,867.00 L1007.00,871.00 L1006.00,875.00 L1004.00,879.00 L1005.00,882.00 L1008.00,885.00 L1010.00,888.50 M978.20,830.00 L977.50,834.00 L977.00,836.50 L975.00,837.50 L974.00,835.00 L972.00,830.50 L968.00,829.00 L966.00,825.00 L964.00,820.00 L962.80,817.40 M964.00,836.00 L967.00,835.50 L971.00,836.50 L973.00,839.00 L971.00,841.50 L968.00,842.00 L965.00,840.00 L964.00,836.00Z M979.00,833.00 L982.00,832.50 L983.00,834.50 L980.00,835.50 L979.00,833.00Z M1011.00,828.00 L1013.00,827.50 L1016.00,830.00 L1016.50,833.00 L1014.00,833.50 L1011.50,832.00 L1010.50,830.00 L1011.00,828.00Z M992.00,842.00 L994.00,840.50 L997.00,842.00 L998.00,845.00 L998.00,849.00 L996.00,850.00 L993.00,849.00 L991.50,846.00 L992.00,842.00Z M964.50,845.00 L965.50,844.80 L966.00,846.00 L965.00,846.80 L964.20,846.00 L964.50,845.00Z M930.00,865.00 L928.00,866.00 L927.00,868.00 L926.00,864.50 L924.50,862.75 L920.00,862.50 L915.00,863.00 L913.50,864.00 L912.25,866.50 L912.25,870.00 L911.00,870.00 L909.50,868.50 L904.00,868.75 L899.00,869.00 L896.00,870.00 L893.00,871.50 L891.00,874.00 L889.00,877.00 L886.00,879.00 L883.50,879.00 L882.00,880.00 L881.00,884.00 L880.25,888.50 M912.25,870.00 L914.00,871.50 L914.50,874.00 L914.25,878.00 L913.00,881.00 L912.50,885.00 L910.00,885.50 L908.25,886.00 L908.00,888.50 M883.50,879.00 L886.50,880.00 L888.00,882.50 L889.00,884.50 L887.00,886.00 L886.50,888.50 M890.50,876.00 L891.00,879.00 L893.50,881.00 L894.00,883.00 L893.50,885.00 L895.00,886.00 L896.50,887.00 L897.00,888.50 M891.00,888.50 L893.50,887.00 L895.00,886.00 M882.75,877.00 L883.50,874.50 L885.00,872.50 L887.00,871.25 M888.50,869.25 L891.00,868.50 L893.00,868.00 M894.50,867.75 L897.25,867.40 M900.50,867.50 L902.75,866.75 M907.25,865.25 L909.25,864.50 M1030.13,748.25 L1032.76,747.50 L1035.01,748.10 M1030.88,748.85 L1035.01,749.15 M728.75,653.05 L730.50,652.00 L732.60,652.35 L734.70,653.75 L735.40,655.50 L735.05,657.95 L734.35,659.70 L734.00,661.10 L733.30,660.40 L732.25,659.00 L730.50,657.60 L729.45,655.50 L728.75,653.05Z M725.25,657.60 L727.00,656.55 L729.10,656.90 L729.80,658.65 L728.40,659.35 L726.30,658.65 L725.25,657.60Z M736.10,651.30 L737.50,652.00 L738.55,653.40 L738.55,655.15 L737.15,655.50 L736.10,654.45 L736.45,652.70 L736.10,651.30Z M732.60,663.55 L734.00,663.90 L735.75,665.30 L736.10,667.05 L735.05,667.40 L733.30,665.65 L732.60,663.55Z M731.90,670.90 L733.30,671.95 L734.70,673.70 L735.40,676.15 L734.35,676.50 L732.95,674.05 L731.90,670.90Z M804.10,698.30 L804.80,700.75 L806.90,702.50 L807.60,704.25 L806.90,707.75 L806.20,711.25 L805.50,714.75 L804.45,717.20 L804.28,714.75 L804.63,711.25 L804.10,709.50 L802.35,709.15 L800.25,707.75 L799.90,706.35 L802.00,706.00 L803.40,704.95 L802.70,702.85 L801.48,701.10 L802.35,699.35 L804.10,698.30Z M806.90,696.20 L808.30,695.15 L809.70,693.05 L811.10,692.70 L811.45,694.45 L810.40,696.20 L808.65,696.90 L807.95,699.70 L807.25,700.05 L806.55,698.30 L806.90,696.20Z M748.40,774.79 L747.20,772.39 L747.50,769.39 L748.70,766.99 L751.40,766.39 L754.40,766.39 L752.90,764.59 L751.40,762.19 L752.30,759.79 L752.60,757.99 L754.40,757.69 L756.80,757.39 L755.90,755.59 L755.60,752.59 L756.20,750.49 L757.70,749.30 L759.80,750.19 L761.00,751.39 L762.80,750.49 L764.60,751.39 L766.39,750.79 L769.99,750.19 L773.59,749.30 L777.19,748.70 L779.89,748.10 L781.99,748.70 L781.39,750.79 L781.39,753.79 L780.19,755.59 L778.39,757.39 L775.99,759.49 L773.59,761.59 L771.19,763.69 L769.39,765.19 L769.39,766.99 L771.49,768.19 L771.19,769.39 L769.69,771.19 L768.49,772.99 L768.19,774.49 L770.59,774.19 L772.99,772.99 L775.99,771.49 L778.39,770.89 L781.99,771.79 L784.99,771.31 L789.19,771.31 L792.79,771.19 L795.19,771.19 L796.99,772.99 L798.49,775.99 L796.99,778.39 L795.49,780.79 L794.59,783.19 L794.29,784.99 M748.40,774.79 L746.60,776.59 L746.00,777.79 L747.20,778.99 L748.70,780.19 L749.60,782.59 L749.30,784.99 M778.39,735.80 L780.19,735.20 L781.99,736.40 L782.59,738.80 L784.99,739.40 L785.89,740.90 L784.39,743.00 L783.19,744.80 L781.99,743.00 L780.19,744.20 L778.39,743.60 L777.49,741.80 L778.99,740.30 L778.39,738.20 L778.39,735.80Z M781.99,730.70 L784.39,732.20 L785.59,734.00 L786.79,732.80 L789.19,731.60 L790.39,732.50 L788.59,733.40 L786.79,734.60 L784.99,735.20 L783.19,732.80 L781.99,730.70Z M749.28,785.04 L748.00,788.40 L746.80,791.20 L744.00,793.60 L742.00,795.20 L743.20,797.20 L745.60,798.00 L746.80,799.60 L749.60,798.00 L752.00,795.60 L754.40,793.60 L753.20,796.40 L751.60,799.60 L750.40,803.60 L749.60,808.40 L749.20,813.20 L748.80,818.00 L748.00,822.80 L747.60,826.00 L748.40,826.80 L749.60,825.20 L750.40,820.40 L751.20,816.40 L752.00,812.40 L753.60,810.00 L755.20,807.60 L756.80,806.00 L755.20,809.20 L753.60,812.40 L752.80,814.80 L754.40,812.40 L756.80,810.00 L759.20,807.60 L759.60,810.00 L761.60,812.40 L760.00,814.00 L759.20,816.40 L760.00,819.60 L761.20,822.00 L760.80,825.20 L759.20,827.60 L757.60,830.00 M736.00,774.80 L739.20,772.00 L741.20,772.80 L742.40,776.40 L743.20,779.60 L745.60,781.20 L747.60,782.00 L746.40,784.40 L744.80,786.80 L743.20,785.20 L741.60,782.80 L739.20,780.40 L736.80,778.80 L734.80,777.60 L734.40,776.40 L736.00,774.80Z M730.40,758.80 L732.80,758.00 L735.20,755.60 L738.40,753.20 L741.20,752.00 L741.60,754.80 L740.80,758.80 L739.20,762.80 L736.80,765.20 L733.60,767.60 L731.20,769.60 L730.40,768.40 L732.00,766.00 L730.40,763.60 L730.00,760.40 L730.40,758.80Z M724.40,773.20 L726.40,772.00 L728.80,771.60 L729.60,773.60 L728.00,775.20 L725.60,774.80 L724.40,773.20Z M725.60,778.80 L727.20,778.80 L727.60,782.00 L727.20,785.20 L726.00,785.20 L725.60,782.00 L725.60,778.80Z M740.00,798.00 L741.60,796.40 L744.00,797.20 L746.40,798.80 L747.20,802.00 L745.60,804.40 L742.40,804.40 L740.40,804.00 L741.20,801.20 L740.00,798.00Z M737.60,815.60 L740.80,814.00 L743.20,813.20 L745.60,810.80 L747.20,809.20 L746.40,812.40 L744.00,815.60 L742.40,818.00 L740.80,820.40 L739.20,818.80 L737.60,817.20 L737.60,815.60Z M752.00,818.80 L753.60,818.00 L755.20,820.40 L755.20,823.60 L753.60,824.00 L752.40,822.00 L752.00,818.80Z M724.40,788.00 L725.20,787.76 L725.44,788.80 L724.64,789.20 L724.40,788.00Z M738.56,786.96 L739.60,786.80 L740.00,788.00 L739.04,788.40 L738.56,786.96Z M735.60,797.60 L737.20,796.00 L736.80,797.20 L735.60,798.00Z M692.50,889.17 L695.00,887.50 L696.67,885.83 L698.75,884.17 L700.42,882.08 L700.00,880.00 L700.42,877.50 L702.50,875.00 L705.83,873.33 L703.75,872.50 L700.42,872.50 L697.50,870.83 L695.00,870.00 L692.50,869.17 L691.25,866.67 L691.67,865.00 L695.00,865.00 L693.33,863.33 L693.75,861.67 L697.08,860.42 L697.50,858.75 L695.00,857.92 L692.92,856.67 L691.25,855.42 L689.17,856.67 L691.67,855.83 L692.50,854.17 L691.67,852.08 L692.50,850.83 L695.00,850.00 L698.33,849.58 L701.67,850.00 L703.33,851.25 L705.00,850.00 L707.50,849.83 L710.00,850.42 L710.83,851.25 L711.67,849.17 L714.17,846.67 L715.83,845.00 L712.50,843.75 L710.00,842.08 L708.75,840.83 L710.00,839.58 L711.67,837.50 L712.92,835.00 L713.75,832.50 L714.58,830.42 L718.33,829.17 L721.67,828.33 L723.33,829.17 L723.75,832.50 L724.17,830.83 L725.83,828.33 L727.08,825.83 L728.33,826.67 L730.42,828.33 L731.67,830.00 L735.00,829.17 L738.33,828.33 L742.50,829.17 L744.17,831.67 L745.00,834.58 L746.67,836.67 L747.92,839.17 L746.67,841.67 L748.33,842.50 L749.58,843.33 L750.42,845.00 L750.00,846.67 L749.58,848.75 L748.33,850.00 L746.67,851.25 L745.00,852.92 L743.33,854.17 L741.67,855.00 L740.00,855.83 L740.42,858.33 L741.67,862.50 L742.50,866.67 L742.92,871.67 L743.33,876.67 L743.33,880.00 L742.50,882.50 L741.67,885.83 L740.83,888.75 M724.17,832.50 L725.42,835.00 L725.00,837.50 L722.50,839.58 L720.00,840.42 L720.83,842.08 L718.33,843.75 L716.25,845.00 L716.67,847.50 L719.17,850.00 L721.67,852.08 L725.00,853.75 L727.50,852.92 L728.75,849.58 L730.83,847.50 L732.92,849.58 L734.58,852.50 L736.25,854.58 L740.00,855.42 M724.17,830.83 L726.67,830.00 L729.17,830.83 L730.42,828.33 M757.58,830.00 L756.67,832.50 L755.42,834.17 L754.17,835.42 L755.42,838.33 L757.50,840.42 L759.17,838.33 L761.67,837.92 L764.17,838.75 L766.67,837.50 L769.17,838.75 L771.67,837.08 L775.00,835.83 L778.33,835.42 L781.67,835.00 L785.00,834.58 M785.00,834.58 L780.00,835.83 L776.67,837.92 L775.00,841.67 L775.00,845.00 L776.67,848.33 L779.17,850.83 L781.67,852.50 L784.17,853.33 L782.50,855.83 L781.67,861.67 L782.50,866.67 L783.33,870.00 L785.00,871.67 M760.00,854.17 L762.50,850.00 L764.58,847.50 L765.42,849.17 L764.17,852.50 L761.67,854.58 L760.00,854.17Z M762.50,870.00 L765.00,868.33 L767.92,870.42 L767.50,872.92 L765.00,874.17 L762.92,872.50 L762.50,870.00Z M767.92,871.67 L772.50,871.25 L776.67,870.42 L780.00,870.00 L780.83,871.67 L783.33,870.83 L785.00,871.67 M767.08,873.33 L765.83,875.00 L764.17,876.67 L761.67,880.00 L760.83,881.67 L763.33,880.83 L765.83,879.17 L768.33,879.58 L768.75,883.33 L769.17,886.67 L769.58,888.75 M794.25,784.94 L792.41,790.92 L788.97,796.09 L786.09,799.54 L781.49,800.69 L779.20,802.41 L781.49,802.99 L786.09,803.56 L787.24,805.29 L784.94,807.59 L781.49,809.31 L778.05,810.46 L772.30,809.31 L776.90,811.03 L781.49,812.18 L784.94,810.46 L788.39,810.46 L792.99,813.33 L796.44,816.78 L799.89,821.38 L801.61,827.13 L803.33,834.02 L804.48,839.77 L807.93,842.64 L812.53,845.52 L815.98,849.54 L819.43,852.99 L820.57,854.71 L818.85,855.86 L820.00,860.46 L822.87,865.06 L825.17,869.66 L826.32,874.25 L824.02,877.70 L822.87,880.57 L825.17,882.30 L828.62,878.85 L833.22,878.28 L838.97,880.00 L842.41,882.30 L844.14,885.75 L844.14,889.20 M812.53,862.18 L817.13,862.18 L820.57,863.91 L822.87,865.06" fill="none" stroke="#000" stroke-width="1.1" stroke-linejoin="round" stroke-linecap="round"/>
<g stroke="#000" fill="none" stroke-linecap="butt">
<path d="M540.9,584.3 L543.3,590.8 M548.4,584.2 L548.4,591 M556.4,584.3 L553.5,591 M543.2,590.9 L553.5,590.9 L557.6,602.3" stroke-width="1.7"/>
<path d="M539.6,602.4 L546.2,602.4 M551.2,602.4 L557.9,602.4" stroke-width="2.7"/>
</g><ellipse cx="557.9" cy="610.6" rx="1.1" ry="0.8" fill="#000"/>
</g>
<rect x="195.5" y="321.5" width="840.0" height="569.0" fill="none" stroke="#000" stroke-width="1.1"/>
<text x="305.5" y="309.7" font-size="18.9" letter-spacing="0.25" text-anchor="middle" font-family="DejaVu Sans, Liberation Sans, sans-serif">40°W</text>
<text x="305.5" y="912" font-size="18.9" letter-spacing="0.25" text-anchor="middle" font-family="DejaVu Sans, Liberation Sans, sans-serif">40°W</text>
<text x="434.5" y="309.7" font-size="18.9" letter-spacing="0.25" text-anchor="middle" font-family="DejaVu Sans, Liberation Sans, sans-serif">30°W</text>
<text x="434.5" y="912" font-size="18.9" letter-spacing="0.25" text-anchor="middle" font-family="DejaVu Sans, Liberation Sans, sans-serif">30°W</text>
<text x="563.5" y="309.7" font-size="18.9" letter-spacing="0.25" text-anchor="middle" font-family="DejaVu Sans, Liberation Sans, sans-serif">20°W</text>
<text x="563.5" y="912" font-size="18.9" letter-spacing="0.25" text-anchor="middle" font-family="DejaVu Sans, Liberation Sans, sans-serif">20°W</text>
<text x="692.5" y="309.7" font-size="18.9" letter-spacing="0.25" text-anchor="middle" font-family="DejaVu Sans, Liberation Sans, sans-serif">10°W</text>
<text x="692.5" y="912" font-size="18.9" letter-spacing="0.25" text-anchor="middle" font-family="DejaVu Sans, Liberation Sans, sans-serif">10°W</text>
<text x="821.5" y="309.7" font-size="18.9" letter-spacing="0.25" text-anchor="middle" font-family="DejaVu Sans, Liberation Sans, sans-serif">0°</text>
<text x="821.5" y="912" font-size="18.9" letter-spacing="0.25" text-anchor="middle" font-family="DejaVu Sans, Liberation Sans, sans-serif">0°</text>
<text x="950.5" y="309.7" font-size="18.9" letter-spacing="0.25" text-anchor="middle" font-family="DejaVu Sans, Liberation Sans, sans-serif">10°E</text>
<text x="950.5" y="912" font-size="18.9" letter-spacing="0.25" text-anchor="middle" font-family="DejaVu Sans, Liberation Sans, sans-serif">10°E</text>
<text x="188" y="411.2" font-size="18.9" letter-spacing="0.25" text-anchor="end" font-family="DejaVu Sans, Liberation Sans, sans-serif">70°N</text>
<text x="1042.8" y="411.2" font-size="18.9" letter-spacing="0.25" text-anchor="start" font-family="DejaVu Sans, Liberation Sans, sans-serif">70°N</text>
<text x="188" y="500.2" font-size="18.9" letter-spacing="0.25" text-anchor="end" font-family="DejaVu Sans, Liberation Sans, sans-serif">67.5°N</text>
<text x="1042.8" y="500.2" font-size="18.9" letter-spacing="0.25" text-anchor="start" font-family="DejaVu Sans, Liberation Sans, sans-serif">67.5°N</text>
<text x="188" y="580.3" font-size="18.9" letter-spacing="0.25" text-anchor="end" font-family="DejaVu Sans, Liberation Sans, sans-serif">65°N</text>
<text x="1042.8" y="580.3" font-size="18.9" letter-spacing="0.25" text-anchor="start" font-family="DejaVu Sans, Liberation Sans, sans-serif">65°N</text>
<text x="188" y="653.2" font-size="18.9" letter-spacing="0.25" text-anchor="end" font-family="DejaVu Sans, Liberation Sans, sans-serif">62.5°N</text>
<text x="1042.8" y="653.2" font-size="18.9" letter-spacing="0.25" text-anchor="start" font-family="DejaVu Sans, Liberation Sans, sans-serif">62.5°N</text>
<text x="188" y="720.2" font-size="18.9" letter-spacing="0.25" text-anchor="end" font-family="DejaVu Sans, Liberation Sans, sans-serif">60°N</text>
<text x="1042.8" y="720.2" font-size="18.9" letter-spacing="0.25" text-anchor="start" font-family="DejaVu Sans, Liberation Sans, sans-serif">60°N</text>
<text x="188" y="782.4" font-size="18.9" letter-spacing="0.25" text-anchor="end" font-family="DejaVu Sans, Liberation Sans, sans-serif">57.5°N</text>
<text x="1042.8" y="782.4" font-size="18.9" letter-spacing="0.25" text-anchor="start" font-family="DejaVu Sans, Liberation Sans, sans-serif">57.5°N</text>
<text x="188" y="840.4" font-size="18.9" letter-spacing="0.25" text-anchor="end" font-family="DejaVu Sans, Liberation Sans, sans-serif">55°N</text>
<text x="1042.8" y="840.4" font-size="18.9" letter-spacing="0.25" text-anchor="start" font-family="DejaVu Sans, Liberation Sans, sans-serif">55°N</text>
<text x="188" y="894.3" font-size="18.9" letter-spacing="0.25" text-anchor="end" font-family="DejaVu Sans, Liberation Sans, sans-serif">52.5°N</text>
<text x="1042.8" y="894.3" font-size="18.9" letter-spacing="0.25" text-anchor="start" font-family="DejaVu Sans, Liberation Sans, sans-serif">52.5°N</text>
<text x="60" y="975" font-size="13.9" font-family="DejaVu Sans, Liberation Sans, sans-serif">© Met Office Crown Copyright</text>
<g fill="#c8fa28"><path d="M14.90,44.25 C15.80,44.36 18.35,44.98 20.30,44.90 C22.25,44.82 24.52,44.47 26.60,43.80 C28.68,43.13 30.72,41.93 32.80,40.90 C34.88,39.87 37.02,38.71 39.10,37.60 C41.18,36.49 43.22,35.18 45.30,34.25 C47.38,33.32 49.52,32.52 51.60,32.00 C53.68,31.48 55.36,31.00 57.80,31.10 C60.24,31.20 63.80,32.00 66.25,32.60 C68.70,33.20 70.42,34.15 72.50,34.70 C74.58,35.25 76.67,35.67 78.75,35.90 C80.83,36.13 82.92,36.13 85.00,36.10 C87.08,36.07 89.17,35.97 91.25,35.70 C93.33,35.43 95.24,35.02 97.50,34.50 C99.76,33.98 103.58,32.92 104.80,32.60 L104.80,41.30 C103.58,41.42 99.76,41.82 97.50,42.00 C95.24,42.18 93.33,42.37 91.25,42.40 C89.17,42.43 87.08,42.35 85.00,42.20 C82.92,42.05 80.83,41.85 78.75,41.50 C76.67,41.15 74.58,40.68 72.50,40.10 C70.42,39.52 68.70,38.42 66.25,38.00 C63.80,37.58 60.24,37.25 57.80,37.60 C55.36,37.95 53.68,39.13 51.60,40.10 C49.52,41.07 47.38,42.22 45.30,43.40 C43.22,44.58 41.18,46.15 39.10,47.20 C37.02,48.25 34.88,49.12 32.80,49.70 C30.72,50.28 28.68,50.63 26.60,50.70 C24.52,50.77 22.25,50.48 20.30,50.10 C18.35,49.72 15.80,48.68 14.90,48.40 Z"/><path d="M14.90,50.50 C15.80,50.78 18.35,51.65 20.30,52.20 C22.25,52.75 24.52,53.32 26.60,53.80 C28.68,54.28 30.72,54.85 32.80,55.10 C34.88,55.35 37.02,55.52 39.10,55.30 C41.18,55.08 43.22,54.60 45.30,53.80 C47.38,53.00 49.52,51.75 51.60,50.50 C53.68,49.25 55.36,47.68 57.80,46.30 C60.24,44.92 63.80,43.00 66.25,42.20 C68.70,41.40 70.42,41.40 72.50,41.50 C74.58,41.60 76.67,42.20 78.75,42.80 C80.83,43.40 82.92,44.48 85.00,45.10 C87.08,45.72 89.17,46.15 91.25,46.50 C93.33,46.85 95.24,47.08 97.50,47.20 C99.76,47.32 103.58,47.20 104.80,47.20 L104.80,53.00 C103.58,52.90 99.76,52.78 97.50,52.40 C95.24,52.02 93.33,51.23 91.25,50.70 C89.17,50.18 87.08,49.63 85.00,49.25 C82.92,48.87 80.83,48.40 78.75,48.40 C76.67,48.40 74.58,48.69 72.50,49.25 C70.42,49.81 68.70,50.42 66.25,51.75 C63.80,53.08 60.24,55.88 57.80,57.20 C55.36,58.53 53.68,59.08 51.60,59.70 C49.52,60.32 47.38,60.70 45.30,60.90 C43.22,61.10 41.18,61.07 39.10,60.90 C37.02,60.73 34.88,60.38 32.80,59.90 C30.72,59.42 28.68,58.60 26.60,58.00 C24.52,57.40 22.25,56.78 20.30,56.30 C18.35,55.82 15.80,55.30 14.90,55.10 Z"/><path d="M14.90,60.00 C16.42,60.07 21.23,60.11 24.00,60.40 C26.77,60.69 29.00,61.11 31.50,61.75 C34.00,62.39 36.75,63.66 39.00,64.25 C41.25,64.84 42.62,65.12 45.00,65.30 C47.38,65.47 50.52,65.68 53.30,65.30 C56.08,64.92 58.92,63.93 61.70,63.00 C64.48,62.07 67.45,61.03 70.00,59.70 C72.55,58.37 74.50,56.20 77.00,55.00 C79.50,53.80 82.00,52.58 85.00,52.50 C88.00,52.42 91.70,53.75 95.00,54.50 C98.30,55.25 103.17,56.58 104.80,57.00 L104.80,61.00 C103.17,60.75 98.30,59.58 95.00,59.50 C91.70,59.42 88.00,59.50 85.00,60.50 C82.00,61.50 79.50,63.97 77.00,65.50 C74.50,67.03 72.55,68.73 70.00,69.70 C67.45,70.67 64.48,70.96 61.70,71.30 C58.92,71.64 56.25,72.05 53.30,71.75 C50.35,71.45 46.80,70.17 44.00,69.50 C41.20,68.83 39.00,68.25 36.50,67.75 C34.00,67.25 30.92,66.71 29.00,66.50 C27.08,66.29 26.50,66.42 25.00,66.50 C23.50,66.58 21.68,66.62 20.00,67.00 C18.32,67.38 15.75,68.46 14.90,68.75 Z"/><path d="M14.90,74.50 C15.75,74.04 17.77,72.48 20.00,71.75 C22.23,71.02 25.52,70.38 28.30,70.10 C31.08,69.82 33.92,69.82 36.70,70.10 C39.48,70.38 42.23,71.13 45.00,71.75 C47.77,72.37 50.52,73.17 53.30,73.80 C56.08,74.42 58.92,75.35 61.70,75.50 C64.48,75.65 67.45,75.12 70.00,74.70 C72.55,74.28 74.50,73.95 77.00,73.00 C79.50,72.05 82.00,70.50 85.00,69.00 C88.00,67.50 91.70,65.00 95.00,64.00 C98.30,63.00 103.17,63.17 104.80,63.00 L104.80,69.00 C102.33,69.83 94.13,72.17 90.00,74.00 C85.87,75.83 83.00,78.55 80.00,80.00 C77.00,81.45 74.37,82.27 72.00,82.70 C69.63,83.13 68.22,82.97 65.80,82.60 C63.38,82.23 60.27,81.20 57.50,80.50 C54.73,79.80 51.98,78.95 49.20,78.40 C46.42,77.85 43.58,77.33 40.80,77.20 C38.02,77.07 34.92,77.12 32.50,77.60 C30.07,78.08 28.33,79.20 26.25,80.10 C24.17,81.00 21.89,81.93 20.00,83.00 C18.11,84.07 15.75,85.92 14.90,86.50 Z"/></g><text x="14.6" y="108.8" font-family="DejaVu Sans, Liberation Sans, sans-serif" font-weight="bold" font-stretch="condensed" font-size="20" fill="#1e1e1e" textLength="90.6" lengthAdjust="spacingAndGlyphs">Met Office</text>
</svg></body></html>
